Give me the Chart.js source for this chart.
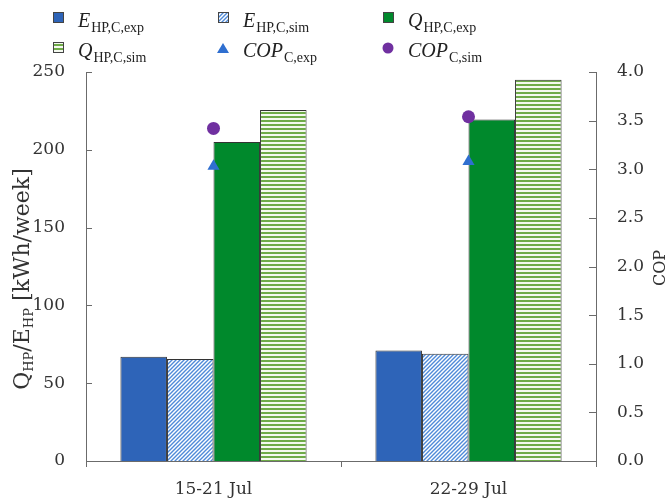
<!DOCTYPE html>
<html>
<head>
<meta charset="utf-8">
<script src="https://cdn.jsdelivr.net/npm/chart.js@4"></script>
<style>
  html, body { margin: 0; padding: 0; background: #fff; }
  #wrap { width: 667px; height: 502px; }
</style>
</head>
<body>
<div id="wrap"><canvas id="copChart" width="667" height="502"></canvas></div>
<script>
// weekly heat pump figures, cooling mode
const weeks = ['15-21 Jul', '22-29 Jul'];
const eExp = [67, 71];
const eSim = [65.5, 69];
const qExp = [205, 219.5];
const qSim = [225.5, 245];
const copExp = [3.03, 3.08];
const copSim = [3.42, 3.54];

const energyTicks = [0, 50, 100, 150, 200, 250];
const copTicks = [0, 0.5, 1, 1.5, 2, 2.5, 3, 3.5, 4];

const BLUE = '#2e64b8';
const GREEN = '#00892c';
const LIGHT_GREEN = '#6fab48';
const HATCH_BLUE = '#4f8ad8';
const TRI_BLUE = '#2f6fd0';
const PURPLE = '#7030a0';
const AXIS = '#6b6b6b';
const TEXT = '#333';

// diagonal hatch for simulated electricity
function diagPattern() {
  const c = document.createElement('canvas');
  c.width = 4; c.height = 4;
  const g = c.getContext('2d');
  g.fillStyle = '#fff';
  g.fillRect(0, 0, 4, 4);
  g.strokeStyle = HATCH_BLUE;
  g.lineWidth = 1.4;
  g.beginPath();
  g.moveTo(-1, 5); g.lineTo(5, -1);
  g.moveTo(-1, 1); g.lineTo(1, -1);
  g.moveTo(3, 5); g.lineTo(5, 3);
  g.stroke();
  return g.createPattern(c, 'repeat');
}

// horizontal stripes for simulated heat
function stripePattern() {
  const c = document.createElement('canvas');
  c.width = 4; c.height = 4;
  const g = c.getContext('2d');
  g.fillStyle = '#f4f9ef';
  g.fillRect(0, 0, 4, 4);
  g.fillStyle = LIGHT_GREEN;
  g.fillRect(0, 0, 4, 2);
  return g.createPattern(c, 'repeat');
}

const diagFill = diagPattern();
const stripeFill = stripePattern();

// text with a lowered subscript, returns end x
function subText(ctx, x, y, main, sub, mainFont, subFont, dy) {
  ctx.font = mainFont;
  ctx.fillText(main, x, y);
  x += ctx.measureText(main).width + 1;
  ctx.font = subFont;
  ctx.fillText(sub, x, y + dy);
  return x + ctx.measureText(sub).width;
}

const legendItems = [
  { kind: 'box', fill: BLUE, main: 'E', sub: 'HP,C,exp', col: 0, row: 0 },
  { kind: 'box', fill: diagFill, main: 'E', sub: 'HP,C,sim', col: 1, row: 0 },
  { kind: 'box', fill: GREEN, main: 'Q', sub: 'HP,C,exp', col: 2, row: 0 },
  { kind: 'box', fill: stripeFill, main: 'Q', sub: 'HP,C,sim', col: 0, row: 1 },
  { kind: 'tri', fill: TRI_BLUE, main: 'COP', sub: 'C,exp', col: 1, row: 1 },
  { kind: 'dot', fill: PURPLE, main: 'COP', sub: 'C,sim', col: 2, row: 1 }
];
const legendCols = [53, 218, 383];
const legendRows = [17, 47];

const extrasPlugin = {
  id: 'extras',
  afterDraw(chart) {
    const ctx = chart.ctx;
    const area = chart.chartArea;
    const yL = chart.scales.y;
    const yR = chart.scales.y1;
    ctx.save();

    // inward tick marks on both value axes
    ctx.strokeStyle = AXIS;
    ctx.lineWidth = 1;
    ctx.beginPath();
    energyTicks.forEach(v => {
      const py = Math.round(yL.getPixelForValue(v)) + 0.5;
      ctx.moveTo(area.left, py); ctx.lineTo(area.left + 6, py);
    });
    copTicks.forEach(v => {
      const py = Math.round(yR.getPixelForValue(v)) + 0.5;
      ctx.moveTo(area.right, py); ctx.lineTo(area.right - 7, py);
    });
    ctx.stroke();

    // axis titles
    ctx.fillStyle = TEXT;
    ctx.textBaseline = 'alphabetic';
    ctx.textAlign = 'left';
    const big = '22px "DejaVu Serif"';
    const small = '13px "DejaVu Serif"';
    ctx.save();
    ctx.translate(29, 279);
    ctx.rotate(-Math.PI / 2);
    const parts = [['Q', big, 0], ['HP', small, 4], ['/E', big, 0], ['HP', small, 4], [' [kWh/week]', big, 0]];
    let total = 0;
    parts.forEach(p => { ctx.font = p[1]; total += ctx.measureText(p[0]).width; });
    let x = -total / 2;
    parts.forEach(p => {
      ctx.font = p[1];
      ctx.fillText(p[0], x, p[2]);
      x += ctx.measureText(p[0]).width;
    });
    ctx.restore();

    ctx.save();
    ctx.translate(665, 268);
    ctx.rotate(-Math.PI / 2);
    ctx.font = '16px "DejaVu Serif"';
    ctx.textAlign = 'center';
    ctx.fillText('COP', 0, 0);
    ctx.restore();

    // legend
    legendItems.forEach(it => {
      const sx = legendCols[it.col];
      const cy = legendRows[it.row];
      if (it.kind === 'box') {
        ctx.fillStyle = it.fill;
        ctx.fillRect(sx, cy - 5, 10, 10);
        ctx.strokeStyle = '#444';
        ctx.strokeRect(sx + 0.5, cy - 4.5, 10, 10);
      } else if (it.kind === 'tri') {
        ctx.fillStyle = it.fill;
        ctx.beginPath();
        ctx.moveTo(sx + 5, cy - 4);
        ctx.lineTo(sx + 11, cy + 6);
        ctx.lineTo(sx - 1, cy + 6);
        ctx.closePath();
        ctx.fill();
      } else {
        ctx.fillStyle = it.fill;
        ctx.beginPath();
        ctx.arc(sx + 5, cy + 1, 5.5, 0, Math.PI * 2);
        ctx.fill();
      }
      ctx.fillStyle = '#222';
      subText(ctx, sx + 25, cy + 10, it.main, it.sub,
        'italic 20px "Liberation Serif"', '14px "Liberation Serif"', 5);
    });
    ctx.restore();
  }
};

new Chart(document.getElementById('copChart'), {
  type: 'bar',
  data: {
    labels: weeks,
    datasets: [
      { type: 'line', label: 'COP C,exp', data: copExp, yAxisID: 'y1', showLine: false,
        pointStyle: 'triangle', pointRadius: 7, backgroundColor: TRI_BLUE, borderColor: TRI_BLUE,
        borderWidth: 0, order: 0 },
      { type: 'line', label: 'COP C,sim', data: copSim, yAxisID: 'y1', showLine: false,
        pointStyle: 'circle', pointRadius: 6.5, backgroundColor: PURPLE, borderColor: PURPLE,
        borderWidth: 0, order: 0 },
      { label: 'E HP,C,exp', data: eExp, backgroundColor: BLUE, yAxisID: 'y', order: 1 },
      { label: 'E HP,C,sim', data: eSim, backgroundColor: diagFill, yAxisID: 'y', order: 1 },
      { label: 'Q HP,C,exp', data: qExp, backgroundColor: GREEN, yAxisID: 'y', order: 1 },
      { label: 'Q HP,C,sim', data: qSim, backgroundColor: stripeFill, yAxisID: 'y', order: 1 }
    ]
  },
  options: {
    responsive: false,
    animation: false,
    datasets: {
      bar: { borderColor: '#333', borderWidth: 1, barPercentage: 1, categoryPercentage: 0.73 }
    },
    layout: { padding: { left: 0, right: 0, top: 72, bottom: 0 } },
    plugins: {
      legend: { display: false },
      tooltip: { enabled: false }
    },
    scales: {
      x: {
        offset: true,
        afterFit: s => { s.height = 41; },
        grid: { display: true, drawOnChartArea: false, drawTicks: true, tickLength: 6, color: AXIS, offset: true },
        border: { display: true, color: AXIS },
        ticks: { color: TEXT, padding: 12, font: { family: 'DejaVu Serif', size: 17 } }
      },
      y: {
        position: 'left',
        min: 0, max: 250,
        afterBuildTicks: s => { s.ticks = energyTicks.map(v => ({ value: v })); },
        afterFit: s => { s.width = 86; },
        grid: { display: false, drawTicks: false },
        border: { display: true, color: AXIS },
        ticks: { color: TEXT, padding: 21, font: { family: 'DejaVu Serif', size: 17 } }
      },
      y1: {
        position: 'right',
        min: 0, max: 4,
        afterBuildTicks: s => { s.ticks = copTicks.map(v => ({ value: v })); },
        afterFit: s => { s.width = 71; },
        grid: { display: false, drawTicks: false },
        border: { display: true, color: AXIS },
        ticks: { color: TEXT, padding: 21, font: { family: 'DejaVu Serif', size: 17 },
          callback: v => Number(v).toFixed(1) }
      }
    }
  },
  plugins: [extrasPlugin]
});
</script>
</body>
</html>
